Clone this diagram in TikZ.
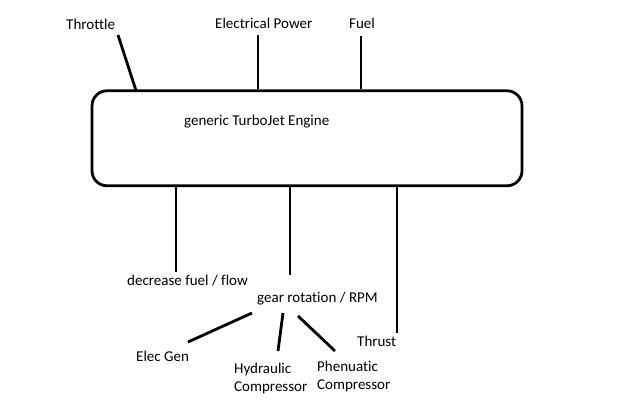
\documentclass[tikz,border=0pt]{standalone}
\usepackage{fontspec}
\setmainfont[Ligatures=NoCommon]{Carlito}
\usetikzlibrary{positioning}
\begin{document}
\begin{tikzpicture}[x=1pt,y=-1pt,
  % === Node styles ===
  engine/.style={draw, rounded corners=15pt, line width=2.8pt,
    minimum width=430pt, minimum height=95pt},
  lbl/.style={font=\fontsize{15}{18}\selectfont, inner sep=0pt,
    anchor=base west, align=left},
  % === Line styles ===
  wire/.style={line width=2.8pt},
]
\useasboundingbox (0,0) rectangle (627,406);

% =============================================
% Engine box
% =============================================
\node[engine] (eng) at (307,138.3) {};
\node[lbl] (engtxt) at (184,126) {generic TurboJet Engine};

% =============================================
% Inputs
% =============================================
\node[lbl] (thr) at (66,29.5) {Throttle};
\node[lbl] (elp) at (215,28.5) {Electrical Power};
\node[lbl] (fuel) at (349,28.5) {Fuel};

\coordinate (thrA) at (118,35);
\coordinate (thrB) at (136,90.5);
\coordinate (elpA) at (258,35);
\coordinate (fuelA) at (361,36);

\draw[wire] (thrA) -- (thrB);
\draw[wire] (elpA) -- (elpA |- eng.north);
\draw[wire] (fuelA) -- (fuelA |- eng.north);

% =============================================
% Outputs
% =============================================
\node[lbl] (dec) at (127,286) {decrease fuel / flow};
\node[lbl] (gear) at (257,302.7) {gear rotation / RPM};
\node[lbl] (thrust) at (357,346.7) {Thrust};

\coordinate (decA) at (176,272);
\coordinate (gearA) at (290,275);
\coordinate (thrustA) at (397,333);

\draw[wire] (decA |- eng.south) -- (decA);
\draw[wire] (gearA |- eng.south) -- (gearA);
\draw[wire] (thrustA |- eng.south) -- (thrustA);

% =============================================
% Driven by gear rotation
% =============================================
\node[lbl] (gen) at (136,361.7) {Elec Gen};
% base anchor sits on the last line
\node[lbl] (hyd) at (234,391.5) {Hydraulic\\Compressor};
\node[lbl] (pne) at (317,389) {Phenuatic\\Compressor};

\coordinate (genA) at (252,313);
\coordinate (genB) at (188,342);
\coordinate (hydA) at (283,313);
\coordinate (hydB) at (278,351);
\coordinate (pneA) at (298,316);
\coordinate (pneB) at (335,351);

\draw[wire] (genA) -- (genB);
\draw[wire] (hydA) -- (hydB);
\draw[wire] (pneA) -- (pneB);

\end{tikzpicture}
\end{document}
